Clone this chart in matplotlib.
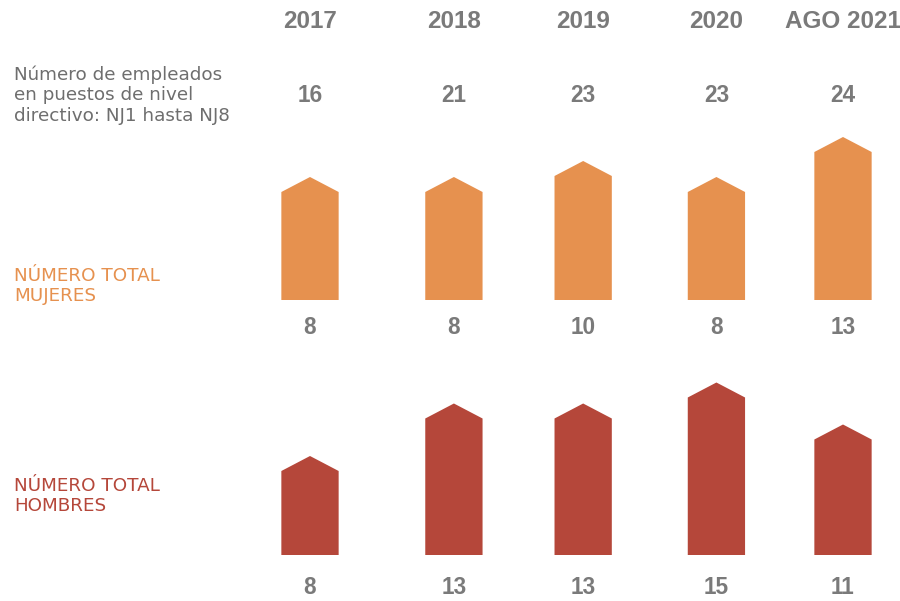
import matplotlib
matplotlib.use('Agg')
import matplotlib.pyplot as plt
from matplotlib import font_manager
from matplotlib.patches import Polygon
from matplotlib.transforms import blended_transform_factory

# --- data ---
years = ['2017', '2018', '2019', '2020', 'AGO 2021']
total = [16, 21, 23, 23, 24]
women = [8, 8, 10, 8, 13]
men = [8, 13, 13, 15, 11]

# column positions (layout only; the source spaces columns slightly unevenly)
xpos = [0, 1.08, 2.05, 3.05, 4]

ORANGE = '#E6914F'
RED = '#B5473A'
GRAY = '#7A7A7A'
LABEL_GRAY = '#6E6E6E'

W, H = 900, 601
fig = plt.figure(figsize=(9, 6.01), dpi=100)

# axes geometry in pixels
px_unit_x = 133.25
first_x = 310
left_px, right_px = 230, 900
bar_w = 0.43
peak_px = 15


def make_axes(base_px, px_unit_y, y0, y1):
    ax = fig.add_axes([left_px / W, (H - base_px) / H,
                       (right_px - left_px) / W, px_unit_y * (y1 - y0) / H])
    ax.set_xlim(-(first_x - left_px) / px_unit_x, (right_px - first_x) / px_unit_x)
    ax.set_ylim(y0, y1)
    ax.axis('off')
    return ax


def house_bars(ax, values, color, px_unit_y):
    base = ax.get_ylim()[0]
    peak = peak_px / px_unit_y
    for x, v in zip(xpos, values):
        pts = [(x - bar_w / 2, base), (x - bar_w / 2, v), (x, v + peak),
               (x + bar_w / 2, v), (x + bar_w / 2, base)]
        ax.add_patch(Polygon(pts, closed=True, facecolor=color,
                             edgecolor='none', clip_on=False))


# women panel: the source draws these bars on an offset baseline
ax_w = make_axes(300, 8.0, -5.5, 16)
ax_m = make_axes(555, 10.5, 0, 16)
house_bars(ax_w, women, ORANGE, 8.0)
house_bars(ax_m, men, RED, 10.5)

trans = blended_transform_factory(ax_w.transData, fig.transFigure)


def fy(px):
    return 1 - px / H


# pick the regular-width Liberation Sans Bold file (not the Narrow one)
bold_file = None
for f in font_manager.findSystemFonts():
    if f.endswith('LiberationSans-Bold.ttf'):
        bold_file = f
        break
if bold_file:
    num_props = dict(fname=bold_file)
else:
    num_props = dict(family='DejaVu Sans', weight='bold')


def num_text(x, ypx, s, size):
    fp = font_manager.FontProperties(size=size, **num_props)
    fig.text(x, fy(ypx), s, transform=trans, fontproperties=fp, color=GRAY,
             ha='center', va='center')


for i, y in enumerate(years):
    x = xpos[i]
    num_text(x, 22, y, 17.5)
    num_text(x, 95, str(total[i]), 16.3)
    num_text(x, 328, str(women[i]), 16.3)
    num_text(x, 588, str(men[i]), 16.3)

lab_font = dict(family='DejaVu Sans', fontsize=13.2, ha='left', va='center',
                linespacing=1.18)
fig.text(14 / W, fy(95), 'Número de empleados\nen puestos de nivel\ndirectivo: NJ1 hasta NJ8',
         color=LABEL_GRAY, **lab_font)
fig.text(14 / W, fy(286), 'NÚMERO TOTAL\nMUJERES', color=ORANGE, **lab_font)
fig.text(14 / W, fy(496), 'NÚMERO TOTAL\nHOMBRES', color=RED, **lab_font)

plt.savefig('out.png', dpi=100)
